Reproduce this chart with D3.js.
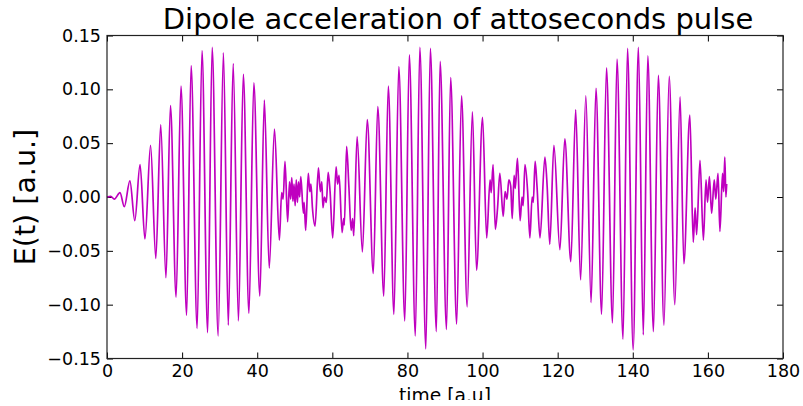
<!DOCTYPE html>
<head>
<style>
body { margin: 0; background: #fff; }
text { font-family: "DejaVu Sans", sans-serif; fill: #000; }
path.signal { fill: none; stroke: #bf00bf; stroke-width: 1.7px; stroke-linejoin: round; }
.frame { fill: none; stroke: #222; stroke-width: 1.2px; }
</style>
<meta charset="utf-8">
<title></title>
</head>
<body>
<script src="https://cdn.jsdelivr.net/npm/d3@7"></script>
<script>

// turning points of the signal: time [a.u], E(t) [a.u.]
var lobe1 = [
  [0, 0], [1.0, 0.0005], [1.95, -0.002], [3.46, 0.004], [4.6, -0.009], [6.1, 0.015],
  [7.4, -0.022], [8.8, 0.030], [10.1, -0.039], [11.6, 0.048], [13.0, -0.057], [14.3, 0.067],
  [15.7, -0.075], [16.9, 0.085], [18.4, -0.093], [19.7, 0.103], [21.2, -0.110], [22.4, 0.122],
  [24.0, -0.122], [25.3, 0.136], [26.8, -0.126], [28.0, 0.139], [29.6, -0.129], [31.0, 0.134],
  [32.3, -0.119], [33.6, 0.124], [35.0, -0.115], [36.3, 0.114], [37.8, -0.108], [39.1, 0.106],
  [40.7, -0.092], [41.9, 0.090], [43.2, -0.066], [44.6, 0.063], [45.9, -0.040]
];

var gap1 = [
  [46.5, 0.004], [46.9, -0.002], [47.4, 0.033], [48.1, -0.023], [48.6, 0.014], [48.9, -0.002],
  [49.2, 0.018], [49.5, -0.004], [49.8, 0.012], [50.1, -0.008], [50.4, 0.016], [50.7, -0.005],
  [51.0, 0.014], [51.3, 0.000], [51.6, 0.019], [52.3, -0.015], [52.5, -0.005], [52.9, -0.031],
  [53.6, 0.022], [54.0, 0.005], [54.3, 0.012], [54.7, -0.010], [55.4, -0.027], [56.3, 0.027],
  [56.8, 0.005], [57.2, 0.014], [57.5, -0.010], [57.9, 0.000], [58.4, -0.005], [58.9, 0.023],
  [59.4, 0.005], [60.1, -0.038], [61.0, 0.028], [61.4, 0.012], [61.8, 0.020], [62.6, -0.033],
  [63.0, -0.020], [63.2, -0.026], [63.8, 0.047], [64.4, 0.010], [65.0, -0.031], [65.4, -0.020],
  [65.7, -0.036]
];

var lobe2 = [
  [66.6, 0.056], [68.0, -0.051], [69.3, 0.072], [70.9, -0.071], [72.1, 0.084], [73.7, -0.092],
  [74.9, 0.103], [76.4, -0.109], [77.7, 0.121], [79.3, -0.115], [80.5, 0.132], [82.1, -0.129],
  [83.3, 0.139], [84.9, -0.141], [86.1, 0.138], [87.7, -0.125], [88.7, 0.126], [90.4, -0.123],
  [91.5, 0.111], [93.1, -0.118], [94.4, 0.094], [95.9, -0.102], [97.3, 0.079], [98.4, -0.068],
  [100.0, 0.074], [101.1, -0.038]
];

var gap2 = [
  [102.0, 0.016], [102.3, 0.004], [102.8, 0.030], [103.4, -0.030], [104.0, -0.010], [104.6, 0.022],
  [105.5, -0.018], [106.0, 0.005], [106.5, -0.002], [107.0, 0.016], [107.5, 0.010], [107.9, -0.020],
  [108.4, 0.020], [108.7, 0.008], [109.3, 0.036], [110.0, -0.022], [110.5, 0.000], [110.8, -0.008],
  [111.3, 0.030], [112.0, 0.005], [112.6, -0.038], [113.2, 0.000], [113.5, -0.005], [114.0, 0.033],
  [114.5, 0.010], [115.3, -0.038], [116.6, 0.037], [117.2, 0.010], [117.9, -0.044]
];

var lobe3 = [
  [119.0, 0.048], [120.6, -0.049], [121.9, 0.054], [123.5, -0.060], [124.8, 0.081], [126.1, -0.077],
  [127.5, 0.094], [128.9, -0.098], [130.2, 0.101], [131.7, -0.109], [133.0, 0.120], [134.6, -0.117],
  [135.8, 0.128], [137.4, -0.132], [138.6, 0.138], [140.1, -0.142], [141.5, 0.139], [142.8, -0.128],
  [144.0, 0.131], [145.5, -0.125], [146.8, 0.113], [148.3, -0.119], [149.7, 0.112], [151.2, -0.100],
  [152.6, 0.093], [153.6, -0.062], [155.2, 0.076]
];

var tail = [
  [156.1, -0.042], [156.6, -0.010], [157.0, -0.035], [157.9, 0.034], [158.8, -0.040], [159.5, 0.016],
  [159.9, -0.005], [160.4, 0.019], [161.0, -0.015], [161.7, 0.016], [162.1, -0.002], [162.7, 0.022],
  [163.2, -0.032], [163.9, 0.022], [164.2, 0.005], [164.5, 0.037], [164.8, 0.000], [165.0, 0.012]
];

var xTicks = [0, 20, 40, 60, 80, 100, 120, 140, 160, 180];
var yTicks = [-0.15, -0.10, -0.05, 0.00, 0.05, 0.10, 0.15];

var data = lobe1.concat(gap1, lobe2, gap2, lobe3, tail);

var width = 803,
    height = 406,
    margin = {top: 35.5, right: 20, bottom: 47.5, left: 107};

var svg = d3.select("body").append("svg")
    .attr("width", width)
    .attr("height", height);

// the figure in the reference ends a few pixels above the window bottom
svg.append("clipPath")
    .attr("id", "fig")
  .append("rect")
    .attr("width", width)
    .attr("height", 400);

var x = d3.scaleLinear().domain([0, 180]).range([margin.left, width - margin.right]);
var y = d3.scaleLinear().domain([-0.15, 0.15]).range([height - margin.bottom, margin.top]);

var fmt = function(d) { return d3.format(".2f")(d).replace("-", "\u2212"); };

// ticks point inwards on all four sides, like the old matplotlib style
svg.append("g")
    .attr("transform", "translate(0," + y(-0.15) + ")")
    .call(d3.axisBottom(x).tickValues(xTicks).tickSize(-6).tickPadding(6).tickFormat(d3.format("d")))
    .call(function(g) { g.select(".domain").remove(); })
    .selectAll("text").style("font-size", "17.5px").attr("fill", "#000");

svg.append("g")
    .attr("transform", "translate(0," + y(0.15) + ")")
    .call(d3.axisTop(x).tickValues(xTicks).tickSize(-6).tickFormat(""))
    .call(function(g) { g.select(".domain").remove(); });

svg.append("g")
    .attr("transform", "translate(" + x(0) + ",0)")
    .call(d3.axisLeft(y).tickValues(yTicks).tickSize(-6).tickPadding(6).tickFormat(fmt))
    .call(function(g) { g.select(".domain").remove(); })
    .selectAll("text").style("font-size", "17.5px").attr("fill", "#000");

svg.append("g")
    .attr("transform", "translate(" + x(180) + ",0)")
    .call(d3.axisRight(y).tickValues(yTicks).tickSize(-6).tickFormat(""))
    .call(function(g) { g.select(".domain").remove(); });

svg.selectAll(".tick line").attr("stroke", "#000");

var line = d3.line()
    .x(function(d) { return x(d[0]); })
    .y(function(d) { return y(d[1]); })
    .curve(d3.curveMonotoneX);

svg.append("path")
    .datum(data)
    .attr("class", "signal")
    .attr("d", line);

svg.append("rect")
    .attr("class", "frame")
    .attr("x", x(0))
    .attr("y", y(0.15))
    .attr("width", x(180) - x(0))
    .attr("height", y(-0.15) - y(0.15));

svg.append("text")
    .attr("x", 458)
    .attr("y", 29)
    .attr("text-anchor", "middle")
    .style("font-size", "29px")
    .text("Dipole acceleration of attoseconds pulse");

svg.append("text")
    .attr("x", (x(0) + x(180)) / 2)
    .attr("y", 402)
    .attr("text-anchor", "middle")
    .attr("clip-path", "url(#fig)")
    .style("font-size", "18.7px")
    .text("time [a.u]");

svg.append("text")
    .attr("transform", "translate(35," + y(0) + ") rotate(-90)")
    .attr("text-anchor", "middle")
    .style("font-size", "28.5px")
    .text("E(t) [a.u.]");

</script>
</body>
</html>
